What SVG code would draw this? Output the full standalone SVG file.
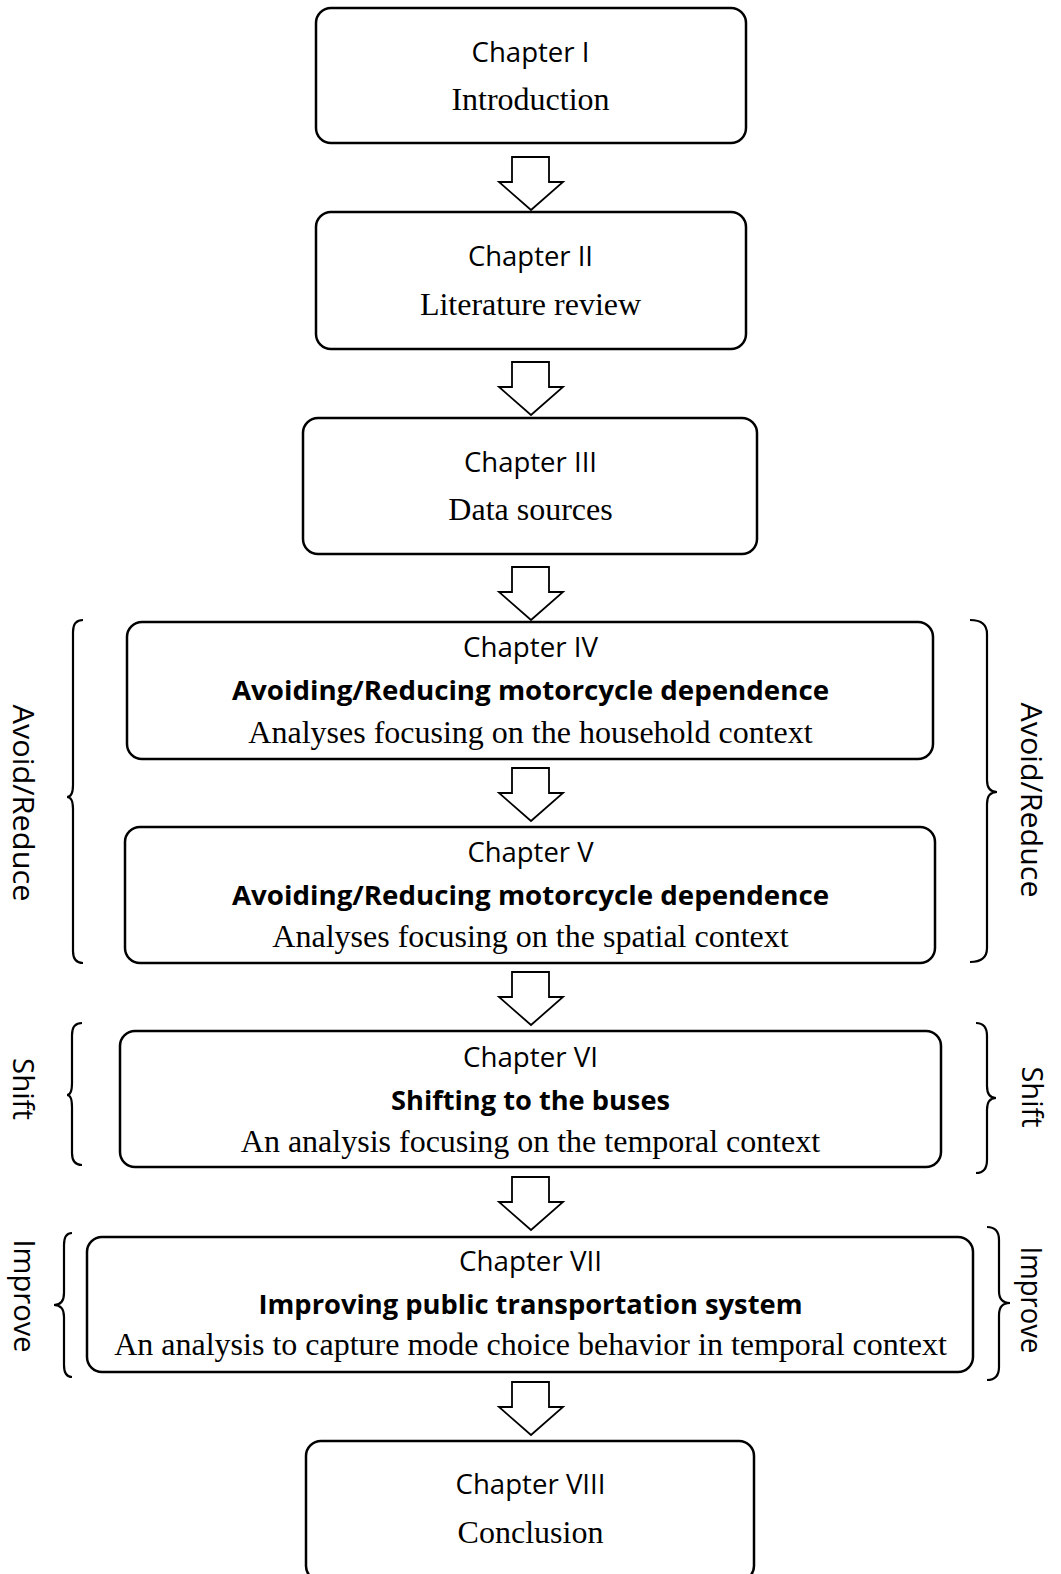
<svg xmlns="http://www.w3.org/2000/svg" width="1061" height="1574" viewBox="0 0 1061 1574">
<style>
.box{fill:#fff;stroke:#000;stroke-width:2.5}
.arr{fill:#fff;stroke:#000;stroke-width:1.8;stroke-linejoin:miter}
.brace{fill:none;stroke:#000;stroke-width:2.2}
.ch{font-family:"Open Sans","Liberation Sans",sans-serif;font-size:27px;text-anchor:middle;fill:#000}
.tm{font-family:"Liberation Serif","Times New Roman",serif;font-size:32px;text-anchor:middle;fill:#000}
.bd{font-family:"Open Sans","Liberation Sans",sans-serif;font-size:27px;font-weight:700;text-anchor:middle;fill:#000}
.side{font-family:"Open Sans","Liberation Sans",sans-serif;font-size:29px;text-anchor:middle;fill:#000}
</style>
<rect width="1061" height="1574" fill="#fff"/>
<g id="connectors">
<path class="arr" d="M512,157 H549 V182 H563 L531,210 L499,182 H512 Z"/>
<path class="arr" d="M512,362 H549 V387 H563 L531,415 L499,387 H512 Z"/>
<path class="arr" d="M512,567 H549 V592 H563 L531,620 L499,592 H512 Z"/>
<path class="arr" d="M512,768 H549 V793 H563 L531,821 L499,793 H512 Z"/>
<path class="arr" d="M512,972 H549 V997 H563 L531,1025 L499,997 H512 Z"/>
<path class="arr" d="M512,1177 H549 V1202 H563 L531,1230 L499,1202 H512 Z"/>
<path class="arr" d="M512,1382 H549 V1407 H563 L531,1435 L499,1407 H512 Z"/>
</g>
<g id="ch1">
<rect class="box" x="316" y="8" width="430" height="135" rx="15"/>
<text class="ch" x="530.5" y="62" textLength="118" lengthAdjust="spacingAndGlyphs">Chapter I</text>
<text class="tm" x="530.5" y="110">Introduction</text>
</g>
<g id="ch2">
<rect class="box" x="316" y="212" width="430" height="137" rx="15"/>
<text class="ch" x="530.5" y="266" textLength="125" lengthAdjust="spacingAndGlyphs">Chapter II</text>
<text class="tm" x="530.5" y="315">Literature review</text>
</g>
<g id="ch3">
<rect class="box" x="303" y="418" width="454" height="136" rx="15"/>
<text class="ch" x="530.5" y="472" textLength="133" lengthAdjust="spacingAndGlyphs">Chapter III</text>
<text class="tm" x="530.5" y="520">Data sources</text>
</g>
<g id="ch4">
<rect class="box" x="127" y="622" width="806" height="137" rx="15"/>
<text class="ch" x="530.5" y="657" textLength="135" lengthAdjust="spacingAndGlyphs">Chapter IV</text>
<text class="bd" x="530.5" y="700" textLength="597" lengthAdjust="spacingAndGlyphs">Avoiding/Reducing motorcycle dependence</text>
<text class="tm" x="530.5" y="743">Analyses focusing on the household context</text>
</g>
<g id="ch5">
<rect class="box" x="125" y="827" width="810" height="136" rx="15"/>
<text class="ch" x="530.5" y="862" textLength="126" lengthAdjust="spacingAndGlyphs">Chapter V</text>
<text class="bd" x="530.5" y="905" textLength="597" lengthAdjust="spacingAndGlyphs">Avoiding/Reducing motorcycle dependence</text>
<text class="tm" x="530.5" y="947">Analyses focusing on the spatial context</text>
</g>
<g id="ch6">
<rect class="box" x="120" y="1031" width="821" height="136" rx="15"/>
<text class="ch" x="530.5" y="1067" textLength="135" lengthAdjust="spacingAndGlyphs">Chapter VI</text>
<text class="bd" x="530.5" y="1110" textLength="279" lengthAdjust="spacingAndGlyphs">Shifting to the buses</text>
<text class="tm" x="530.5" y="1152">An analysis focusing on the temporal context</text>
</g>
<g id="ch7">
<rect class="box" x="87" y="1237" width="886" height="135" rx="15"/>
<text class="ch" x="530.5" y="1271" textLength="143" lengthAdjust="spacingAndGlyphs">Chapter VII</text>
<text class="bd" x="530.5" y="1314" textLength="544" lengthAdjust="spacingAndGlyphs">Improving public transportation system</text>
<text class="tm" x="530.5" y="1355">An analysis to capture mode choice behavior in temporal context</text>
</g>
<g id="ch8">
<rect class="box" x="306" y="1441" width="448" height="140" rx="15"/>
<text class="ch" x="530.5" y="1494" textLength="150" lengthAdjust="spacingAndGlyphs">Chapter VIII</text>
<text class="tm" x="530.5" y="1543">Conclusion</text>
</g>
<g id="brace-avoid-left">
<path class="brace" d="M83,620 Q73,620 73,632 L73,785 Q73,797 67,797 Q73,797 73,809 L73,951 Q73,963 83,963"/>
<text class="side" transform="translate(13,803) rotate(90)" textLength="197" lengthAdjust="spacingAndGlyphs">Avoid/Reduce</text>
</g>
<g id="brace-avoid-right">
<path class="brace" d="M970,620 Q987,620 987,634 L987,780 Q987,792 997,792 Q987,792 987,804 L987,948 Q987,962 970,962"/>
<text class="side" transform="translate(1021,800) rotate(90)" textLength="195" lengthAdjust="spacingAndGlyphs">Avoid/Reduce</text>
</g>
<g id="brace-shift-left">
<path class="brace" d="M82,1023 Q72,1023 72,1035 L72,1083 Q72,1095 67,1095 Q72,1095 72,1107 L72,1153 Q72,1165 82,1165"/>
<text class="side" transform="translate(13,1089) rotate(90)" textLength="62" lengthAdjust="spacingAndGlyphs">Shift</text>
</g>
<g id="brace-shift-right">
<path class="brace" d="M976,1023 Q987,1023 987,1036 L987,1086 Q987,1098 996,1098 Q987,1098 987,1110 L987,1160 Q987,1173 976,1173"/>
<text class="side" transform="translate(1022,1097) rotate(90)" textLength="61" lengthAdjust="spacingAndGlyphs">Shift</text>
</g>
<g id="brace-improve-left">
<path class="brace" d="M72,1233 Q64,1233 64,1245 L64,1293 Q64,1305 54,1305 Q64,1305 64,1317 L64,1365 Q64,1377 72,1377"/>
<text class="side" transform="translate(14,1296) rotate(90)" textLength="113" lengthAdjust="spacingAndGlyphs">Improve</text>
</g>
<g id="brace-improve-right">
<path class="brace" d="M987,1227 Q999,1227 999,1240 L999,1291 Q999,1303 1010,1303 Q999,1303 999,1315 L999,1367 Q999,1380 987,1380"/>
<text class="side" transform="translate(1021,1300) rotate(90)" textLength="107" lengthAdjust="spacingAndGlyphs">Improve</text>
</g>
</svg>
